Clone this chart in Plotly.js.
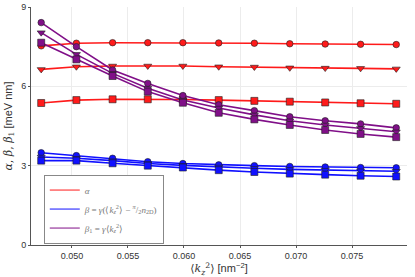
<!DOCTYPE html>
<html><head><meta charset="utf-8">
<script src="https://cdn.plot.ly/plotly-3.0.1.min.js"></script>
<style>html,body{margin:0;padding:0;background:#fff}#c{width:415px;height:277px}</style>
</head><body><div id="c"></div>
<script>
const kz2 = [0.04726, 0.05040, 0.05363, 0.05677, 0.05990, 0.06310, 0.06628, 0.06944, 0.07260, 0.07576, 0.07894];

const alphaCircle = [7.53, 7.63, 7.65, 7.65, 7.65, 7.64, 7.63, 7.61, 7.60, 7.59, 7.58];
const alphaTri    = [6.64, 6.74, 6.77, 6.77, 6.77, 6.74, 6.73, 6.70, 6.69, 6.68, 6.66];
const alphaSq     = [5.37, 5.48, 5.51, 5.51, 5.50, 5.48, 5.45, 5.42, 5.39, 5.36, 5.34];

const betaCircle = [3.49, 3.38, 3.28, 3.15, 3.08, 3.03, 3.00, 2.97, 2.95, 2.93, 2.92];
const betaTri    = [3.33, 3.28, 3.19, 3.08, 3.01, 2.95, 2.90, 2.86, 2.83, 2.81, 2.79];
const betaSq     = [3.19, 3.19, 3.09, 3.00, 2.93, 2.83, 2.76, 2.70, 2.66, 2.62, 2.59];

const beta1Circle = [8.41, 7.50, 6.62, 6.11, 5.65, 5.30, 5.08, 4.85, 4.70, 4.58, 4.43];
const beta1Tri    = [8.03, 7.21, 6.49, 5.93, 5.48, 5.18, 4.92, 4.70, 4.54, 4.41, 4.28];
const beta1Sq     = [7.65, 7.02, 6.39, 5.80, 5.38, 5.00, 4.75, 4.54, 4.35, 4.20, 4.08];

const legendNames = [
  '<i>α</i>',
  '<i>β</i> = <i>γ</i>(⟨<i>k</i><sub><i>z</i></sub><sup>2</sup>⟩ − <sup><i>π</i></sup>/<sub>2</sub><i>n</i><sub>2D</sub>)',
  '<i>β</i><sub>1</sub> = <i>γ</i>⟨<i>k</i><sub><i>z</i></sub><sup>2</sup>⟩'
];

const RED = '#ff1a1a', BLUE = '#1010ff', PURPLE = '#800f88';
const groups = [
  {color: RED, series: [alphaCircle, alphaTri, alphaSq]},
  {color: BLUE, series: [betaCircle, betaTri, betaSq]},
  {color: PURPLE, series: [beta1Circle, beta1Tri, beta1Sq]}
];
const symbols = ['circle', 'triangle-down', 'square'];
const sizes = [6.5, 7, 7];

const traces = [];
groups.forEach((g, gi) => {
  g.series.forEach((ys, si) => {
    traces.push({
      x: kz2, y: ys, type: 'scatter', mode: 'lines+markers',
      line: {color: g.color, width: 1.6},
      marker: {symbol: symbols[si], size: sizes[si], color: g.color,
               line: {color: 'rgba(30,30,30,0.75)', width: 0.8}},
      showlegend: false, hoverinfo: 'skip'
    });
  });
});
groups.forEach((g, gi) => {
  traces.push({
    x: [null], y: [null], type: 'scatter', mode: 'lines',
    line: {color: g.color, width: 1},
    name: legendNames[gi], showlegend: true
  });
});

const layout = {
  width: 415, height: 277,
  margin: {l: 31, r: 8, t: 7, b: 32},
  paper_bgcolor: '#fff', plot_bgcolor: '#fff',
  showlegend: true,
  font: {family: 'Liberation Sans, Arial, sans-serif', size: 9, color: '#333'},
  xaxis: {
    range: [0.04635, 0.0799],
    tickvals: [0.050, 0.055, 0.060, 0.065, 0.070, 0.075],
    ticktext: ['0.050', '0.055', '0.060', '0.065', '0.070', '0.075'],
    showgrid: true, gridcolor: '#ececec', gridwidth: 1,
    zeroline: false,
    showline: true, linecolor: '#555', linewidth: 1,
    ticks: 'outside', ticklen: 2, tickcolor: '#555',
    tickfont: {size: 9, color: '#333'},
    title: {text: '<span style="font-family:DejaVu Serif">⟨<i>k</i><sub><i>z</i></sub><sup>2</sup>⟩</span> [nm<sup>−2</sup>]',
            font: {size: 11, color: '#333'}, standoff: 4}
  },
  yaxis: {
    range: [0, 9],
    tickvals: [0, 3, 6, 9], ticktext: ['0', '3', '6', '9'],
    showgrid: true, gridcolor: '#ececec', gridwidth: 1,
    zeroline: false,
    showline: true, linecolor: '#555', linewidth: 1,
    ticks: 'outside', ticklen: 2, tickcolor: '#555',
    tickfont: {size: 9, color: '#333'},
    title: {text: '<span style="font-family:DejaVu Serif"><i>α</i>, <i>β</i>, <i>β</i><sub>1</sub></span> [meV nm]',
            font: {size: 11, color: '#333'}, standoff: 6}
  },
  legend: {
    x: 0.034, y: 0.151, xanchor: 'left', yanchor: 'middle',
    bgcolor: '#fff', bordercolor: '#888', borderwidth: 1,
    font: {family: 'Liberation Serif, serif', size: 9, color: '#777'},
    tracegroupgap: 0, itemwidth: 30
  }
};

Plotly.newPlot('c', traces, layout, {staticPlot: true, displayModeBar: false});
</script>
</body></html>
